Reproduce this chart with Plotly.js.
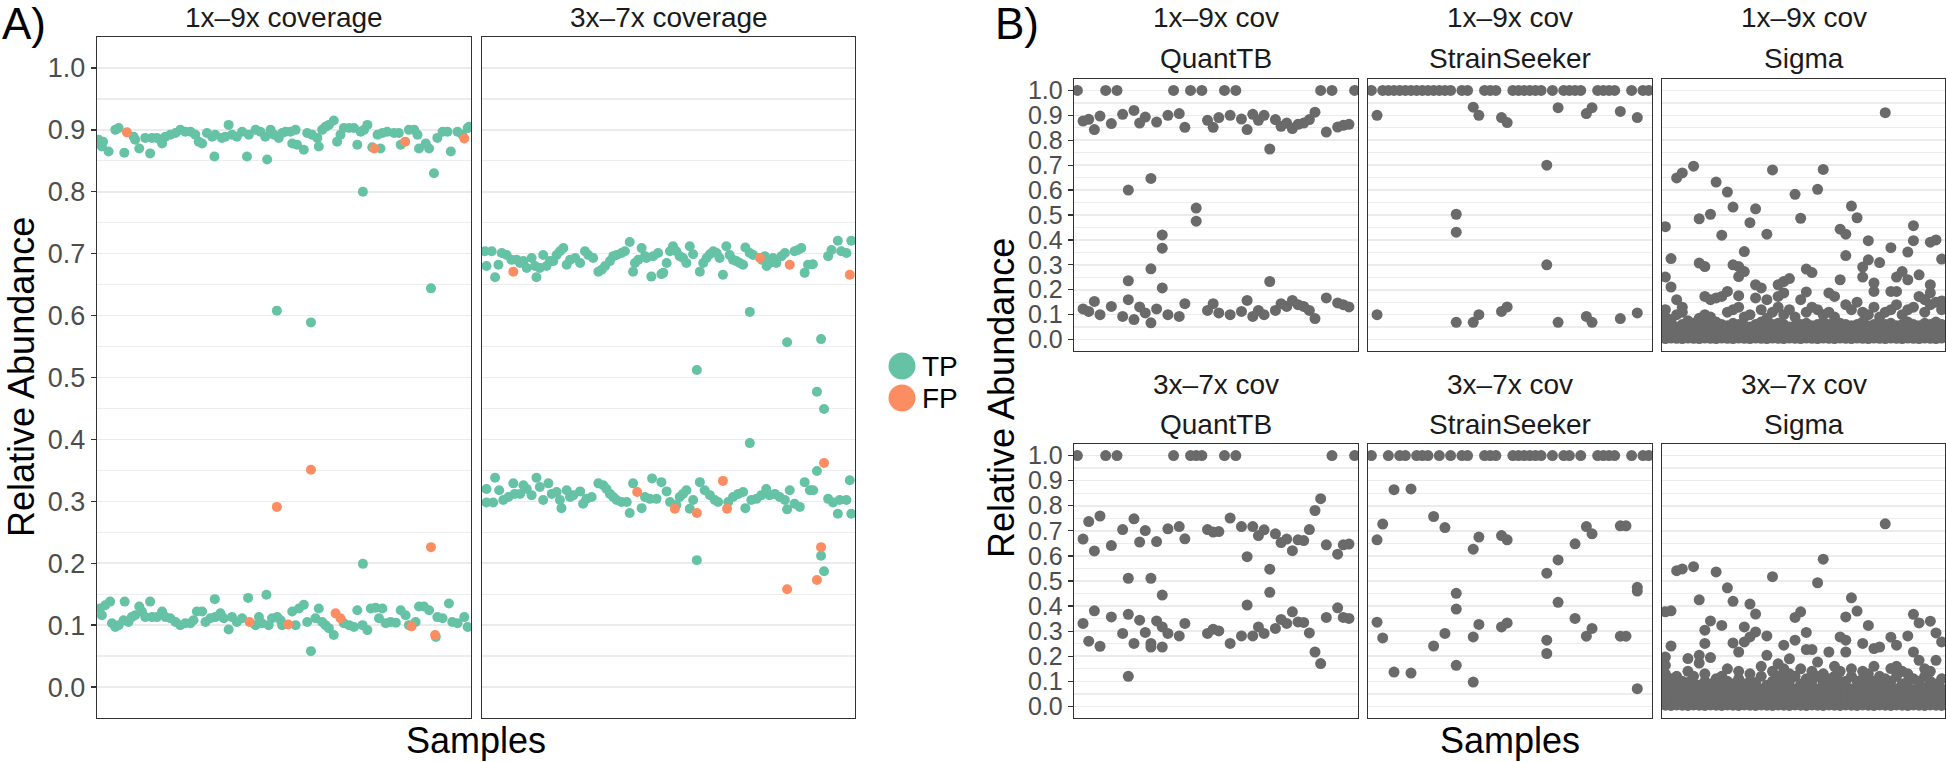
<!DOCTYPE html>
<html>
<head>
<meta charset="utf-8">
<script src="https://cdn.plot.ly/plotly-3.0.1.min.js"></script>
<style>html,body{margin:0;padding:0;background:#fff;}#chart{width:1946px;height:762px;}</style>
</head>
<body>
<div id="chart"></div>
<script>
// ---------- Panel A data: [sample position, relative abundance] ----------
const a19Tp = [
[0.4,0.884],[1.6,0.881],[1.3,0.873],[3.1,0.865],[4.9,0.9],[5.8,0.903],[7.3,0.863],[9.8,0.889],[10.2,0.884],[11.3,0.870],
[12.9,0.887],[14.2,0.862],[14.7,0.887],[16,0.887],[17.4,0.878],[18.3,0.889],[19.6,0.892],[21,0.895],[22.3,0.9],[23.6,0.897],
[25,0.897],[26.3,0.892],[27.2,0.881],[28.1,0.878],[29.4,0.895],[30.8,0.889],[31.6,0.892],[31.4,0.857],[33.4,0.887],[34.3,0.889],
[35.2,0.908],[36.1,0.892],[37.4,0.889],[38.8,0.897],[40.1,0.857],[40.6,0.892],[42.4,0.9],[43.7,0.897],[45,0.889],[45.5,0.852],
[46.4,0.9],[47.3,0.892],[48.6,0.887],[49.5,0.895],[50.4,0.897],[51.7,0.897],[52.2,0.878],[53.1,0.9],[53.5,0.876],[55.3,0.868],
[56.2,0.895],[57.5,0.892],[58.9,0.887],[59.3,0.873],[60.2,0.9],[61.1,0.905],[62,0.908],[63.3,0.915],[64.2,0.881],[65.1,0.892],
[66,0.903],[67.4,0.903],[68.7,0.903],[69.6,0.876],[70.5,0.897],[71.4,0.9],[72.3,0.908],[73.6,0.872],[75,0.892],[75.8,0.870],[76.3,0.895],
[77.6,0.897],[79.4,0.895],[80.7,0.895],[81.2,0.876],[83.4,0.9],[84.8,0.9],[85.7,0.892],[86.1,0.870],[87.9,0.878],[88.8,0.870],
[91,0.887],[92.4,0.897],[93.7,0.897],[94.6,0.865],[96.4,0.897],[97.7,0.892],[99.1,0.903],[99.5,0.905],
[71.1,0.80],[90.1,0.83],[48.1,0.608],[57.2,0.589],[89.3,0.644],[71.1,0.199],[57.2,0.058],
[0.8,0.127],[1.3,0.116],[2.2,0.132],[3.5,0.138],[4,0.103],[4.9,0.097],[5.8,0.1],[7.4,0.138],[7.1,0.108],[8.4,0.105],
[9.3,0.113],[10.2,0.116],[11.3,0.130],[12,0.122],[12.9,0.113],[14.2,0.138],[14.7,0.113],[16,0.113],[17.4,0.122],[18.3,0.113],
[19.6,0.111],[21,0.105],[22.3,0.1],[23.6,0.103],[25,0.103],[25.8,0.108],[26.7,0.122],[28.1,0.122],[29,0.105],[30.3,0.111],
[31.5,0.142],[31.6,0.113],[33,0.119],[33.9,0.111],[35.2,0.093],[36.1,0.113],[37.4,0.105],[38.8,0.111],[40.4,0.144],[42.4,0.1],
[43.3,0.113],[44.1,0.103],[45.3,0.149],[45.9,0.1],[46.8,0.111],[48.2,0.113],[49.1,0.108],[49.5,0.1],[52.2,0.122],[53.1,0.1],
[54,0.127],[55.3,0.133],[56.2,0.105],[58.4,0.111],[59.3,0.127],[60.2,0.105],[61.1,0.1],[62,0.095],[63.3,0.084],[66,0.103],
[67.4,0.1],[68.7,0.097],[69.6,0.124],[71,0.1],[72.3,0.092],[73.2,0.127],[74.5,0.128],[75.4,0.111],[76.3,0.127],[77.2,0.103],
[78.5,0.105],[79.9,0.104],[81.2,0.124],[82.5,0.116],[83.4,0.1],[85.2,0.105],[86.1,0.130],[87.4,0.130],[88.8,0.124],[90.6,0.081],
[91,0.113],[92.4,0.111],[94.1,0.135],[95,0.105],[96.4,0.103],[98.2,0.113],[99.1,0.097]
];
const a19Fp = [
[8,0.896],[74.1,0.870],[82.4,0.881],[98.2,0.886],[40.8,0.105],[51.1,0.101],[63.8,0.119],[65.1,0.111],[84.1,0.098],[90.4,0.084],
[48.1,0.291],[57.2,0.351],[89.3,0.226]
];
const a37Tp = [
[0.8,0.704],[2.6,0.704],[1.2,0.680],[3.5,0.662],[4.4,0.682],[5.3,0.701],[6.6,0.698],[7.9,0.690],[9.3,0.690],[10.2,0.685],
[11.1,0.688],[12,0.677],[13.3,0.693],[14.2,0.680],[14.6,0.662],[15.5,0.677],[16.4,0.698],[17.3,0.680],[18.2,0.688],[19.1,0.688],
[20,0.698],[20.9,0.704],[21.8,0.709],[22.7,0.682],[23.6,0.690],[25,0.693],[26.3,0.685],[27.6,0.704],[28.5,0.698],[29.8,0.693],
[31.2,0.671],[32.1,0.674],[33,0.680],[34.3,0.688],[35.2,0.696],[36.1,0.698],[37.4,0.701],[38.3,0.704],[39.6,0.719],[41,0.685],
[40.5,0.671],[41.9,0.690],[42.8,0.709],[43.7,0.696],[44.1,0.693],[45.4,0.663],[45.9,0.696],[47.2,0.701],[48.1,0.667],[48.6,0.669],
[49.5,0.685],[50.4,0.704],[51.2,0.712],[52.1,0.704],[53,0.696],[53.9,0.693],[54.8,0.685],[55.7,0.712],[56.6,0.699],[58.4,0.671],
[59.3,0.685],[60.2,0.693],[61.1,0.699],[62,0.704],[62.9,0.701],[63.7,0.693],[64.6,0.666],[65.5,0.712],[66.4,0.698],[67.3,0.690],
[68.2,0.688],[69.1,0.685],[70,0.682],[70.6,0.710],[71.8,0.701],[72.7,0.698],[75.1,0.690],[75.8,0.696],[76.3,0.680],[77.1,0.685],[78,0.693],
[78.9,0.685],[80.3,0.696],[81.2,0.701],[83.8,0.704],[84.7,0.706],[85.6,0.709],[86.5,0.669],[87.4,0.682],[88.7,0.683],[92.8,0.696],
[93.7,0.706],[95.4,0.721],[96.3,0.704],[97.7,0.701],[99,0.721],
[71.8,0.606],[81.8,0.557],[90.9,0.562],[57.6,0.512],[89.8,0.477],[91.7,0.449],[71.8,0.394],[89.8,0.349],[57.6,0.205],[90.9,0.212],[91.7,0.187],
[1.2,0.320],[1.2,0.298],[3,0.298],[3.5,0.338],[4.6,0.318],[5.7,0.302],[7.1,0.307],[8.4,0.329],[8.8,0.312],[10.2,0.312],
[11.1,0.326],[12,0.320],[13.3,0.310],[14.6,0.338],[15.5,0.323],[16.4,0.302],[17.8,0.329],[18.7,0.312],[20,0.315],[20.9,0.302],
[21.3,0.289],[22.7,0.318],[23.6,0.307],[24.5,0.310],[26.3,0.316],[27.1,0.296],[28,0.304],[29.4,0.307],[31.2,0.329],[32.5,0.326],
[33.4,0.320],[34.3,0.312],[35.2,0.307],[36.1,0.302],[37.4,0.299],[38.8,0.299],[39.6,0.281],[40.5,0.329],[42.8,0.289],[43.7,0.307],
[45,0.304],[45.6,0.337],[46.8,0.304],[48.1,0.331],[49.5,0.316],[50.4,0.299],[52.1,0.294],[53,0.307],[53.9,0.312],[54.8,0.318],
[55.7,0.288],[56.6,0.302],[58.4,0.331],[59.7,0.318],[61.1,0.310],[62.4,0.302],[63.3,0.299],[66,0.299],[67.3,0.307],[68.7,0.312],
[70,0.315],[70.6,0.289],[72.2,0.302],[73.6,0.304],[74.9,0.310],[76.2,0.320],[77.1,0.310],[78.5,0.312],[79.8,0.307],[81.2,0.302],
[81.8,0.287],[82.5,0.318],[83.8,0.296],[85.2,0.291],[86.5,0.331],[87.9,0.318],[88.8,0.318],[92.8,0.304],[94.1,0.298],[95.4,0.280],
[95.9,0.302],[97.7,0.302],[98.6,0.334],[99,0.280]
];
const a37Fp = [
[8.4,0.671],[74.5,0.693],[82.5,0.682],[98.6,0.666],
[91.7,0.362],[64.6,0.333],[41.6,0.315],[51.7,0.288],[57.6,0.281],[65.7,0.288],[90.9,0.226],[89.8,0.173],[81.8,0.158]
];

// ---------- Panel B data: one list of strain abundances per sample (samples 1..50) ----------
const quant19 = [
[1.0],[0.877,0.123],[0.884,0.113],[0.843,0.153],[0.897,0.1],[1.0],[0.867,0.133],[1.0],[0.904,0.093],[0.6,0.236,0.16],
[0.92,0.08],[0.869,0.131],[0.893,0.107],[0.647,0.284,0.067],[0.873,0.123],[0.42,0.367,0.207],[0.9,0.1],[1.0],[0.907,0.093],[0.852,0.144],
[1.0],[0.528,0.475],[1.0],[0.88,0.117],[0.852,0.144],[0.891,0.107],[1.0],[0.9,0.1],[1.0],[0.885,0.113],
[0.843,0.157],[0.904,0.093],[0.88,0.117],[0.9,0.1],[0.765,0.233],[0.883,0.117],[0.856,0.144],[0.869,0.133],[0.847,0.157],[0.864,0.14],
[0.869,0.133],[0.883,0.117],[0.913,0.084],[1.0],[0.833,0.167],[1.0],[0.853,0.147],[0.86,0.14],[0.864,0.131],[1.0]
];
const seeker19 = [
[1.0],[0.9,0.1],[1.0],[1.0],[1.0],[1.0],[1.0],[1.0],[1.0],[1.0],
[1.0],[1.0],[1.0],[1.0],[1.0],[0.503,0.431,0.069],[1.0],[1.0],[0.933,0.069],[0.9,0.1],
[1.0],[1.0],[1.0],[0.891,0.113],[0.871,0.131],[1.0],[1.0],[1.0],[1.0],[1.0],
[1.0],[0.7,0.3],[1.0],[0.931,0.069],[1.0],[1.0],[1.0],[1.0],[0.907,0.093],[0.931,0.069],
[1.0],[1.0],[1.0],[1.0],[0.916,0.084],[],[1.0],[0.891,0.107],[1.0],[1.0]
];
const sigma19 = [
[0.004,0.02,0.04,0.06,0.09,0.12,0.251,0.453],[0.006,0.022,0.038,0.055,0.08,0.211,0.325],[0.005,0.018,0.034,0.05,0.1,0.16,0.649],
[0.004,0.021,0.037,0.06,0.11,0.13,0.669],[0.006,0.019,0.036,0.052,0.075],[0.005,0.02,0.04,0.065,0.696],
[0.004,0.018,0.035,0.05,0.085,0.307,0.485],[0.006,0.022,0.038,0.06,0.1,0.173,0.293],[0.005,0.02,0.037,0.055,0.09,0.16,0.503],
[0.004,0.019,0.034,0.05,0.07,0.167,0.632],[0.006,0.021,0.04,0.06,0.173,0.419],[0.005,0.02,0.036,0.055,0.11,0.193,0.592],
[0.004,0.018,0.035,0.065,0.12,0.3,0.532],[0.006,0.022,0.04,0.06,0.13,0.176,0.253,0.293],[0.005,0.02,0.038,0.055,0.09,0.273,0.353],
[0.004,0.019,0.035,0.05,0.1,0.469],[0.006,0.021,0.04,0.06,0.167,0.22,0.525],[0.005,0.02,0.036,0.07,0.12,0.207],
[0.004,0.018,0.034,0.055,0.085,0.16,0.423],[0.006,0.022,0.038,0.06,0.11,0.681],[0.005,0.02,0.04,0.065,0.13,0.173,0.22],
[0.004,0.019,0.037,0.06,0.1,0.187,0.233],[0.006,0.021,0.035,0.05,0.12,0.245],[0.005,0.02,0.038,0.055,0.09,0.583],
[0.004,0.018,0.036,0.06,0.16,0.487],[0.006,0.022,0.04,0.065,0.11,0.191,0.283],[0.005,0.02,0.037,0.055,0.13,0.269],
[0.004,0.019,0.035,0.06,0.12,0.603],[0.006,0.021,0.04,0.07,0.1,0.683],[0.005,0.02,0.038,0.06,0.11,0.187],
[0.004,0.018,0.034,0.05,0.09,0.173],[0.006,0.022,0.04,0.065,0.24,0.443],[0.005,0.02,0.037,0.06,0.14,0.337,0.423],
[0.004,0.019,0.035,0.055,0.12,0.536],[0.006,0.021,0.04,0.06,0.15,0.489],[0.005,0.02,0.038,0.07,0.11,0.251,0.291],
[0.004,0.018,0.036,0.055,0.1,0.32,0.397],[0.006,0.022,0.04,0.06,0.13,0.193,0.227],[0.005,0.02,0.037,0.05,0.09,0.309],
[0.004,0.019,0.035,0.06,0.11,0.911],[0.006,0.021,0.04,0.065,0.12,0.193,0.369],[0.005,0.02,0.038,0.055,0.14,0.193,0.251],
[0.004,0.018,0.034,0.06,0.1,0.273],[0.006,0.022,0.04,0.07,0.12,0.24,0.351],[0.005,0.02,0.037,0.06,0.13,0.397,0.457],
[0.004,0.019,0.035,0.055,0.173,0.26],[0.006,0.021,0.04,0.065,0.11,0.16],[0.005,0.02,0.038,0.06,0.14,0.187,0.22,0.391],
[0.004,0.018,0.036,0.07,0.15,0.4],[0.006,0.022,0.04,0.06,0.12,0.155,0.323]
];
const quant37 = [
[1.0],[0.667,0.331],[0.737,0.26],[0.62,0.381],[0.759,0.24],[1.0],[0.641,0.357],[1.0],[0.705,0.291],[0.511,0.367,0.12],
[0.748,0.251],[0.655,0.344],[0.701,0.295],[0.511,0.251,0.237],[0.657,0.341],[0.444,0.317,0.237],[0.708,0.291],[1.0],[0.717,0.281],[0.668,0.331],
[1.0],[1.0],[1.0],[0.705,0.291],[0.695,0.308],[0.697,0.301],[1.0],[0.751,0.251],[1.0],[0.717,0.281],
[0.597,0.404],[0.717,0.281],[0.681,0.317],[0.704,0.291],[0.547,0.455],[0.688,0.311],[0.653,0.347],[0.667,0.331],[0.621,0.377],[0.664,0.337],
[0.661,0.335],[0.705,0.293],[0.781,0.217],[0.828,0.171],[0.644,0.355],[1.0],[0.607,0.393],[0.644,0.355],[0.647,0.351],[1.0]
];
const seeker37 = [
[1.0],[0.664,0.336],[0.727,0.273],[1.0],[0.864,0.137],[1.0],[1.0],[0.867,0.133],[1.0],[1.0],
[1.0],[0.757,0.241],[1.0],[0.713,0.291],[1.0],[0.451,0.388,0.164],[1.0],[1.0],[0.627,0.277,0.097],[0.675,0.327],
[1.0],[1.0],[1.0],[0.681,0.317],[0.664,0.333],[1.0],[1.0],[1.0],[1.0],[1.0],
[1.0],[0.531,0.264,0.211],[1.0],[0.584,0.415],[1.0],[1.0],[0.648,0.351],[1.0],[0.717,0.28],[0.688,0.311],
[1.0],[1.0],[1.0],[1.0],[0.72,0.28],[0.72,0.28],[1.0],[0.475,0.46,0.071],[1.0],[1.0]
];
const sigma37 = [
[0.005,0.02,0.035,0.05,0.065,0.08,0.1,0.13,0.164,0.197,0.377],[0.004,0.018,0.032,0.048,0.062,0.085,0.11,0.241,0.381],
[0.006,0.021,0.036,0.05,0.07,0.09,0.12,0.541],[0.005,0.019,0.034,0.049,0.065,0.08,0.1,0.548],
[0.004,0.02,0.035,0.052,0.07,0.095,0.14,0.191],[0.006,0.022,0.038,0.055,0.07,0.09,0.12,0.557],
[0.005,0.018,0.033,0.05,0.068,0.085,0.173,0.204,0.425],[0.004,0.02,0.036,0.052,0.07,0.1,0.13,0.251,0.304],
[0.006,0.021,0.035,0.05,0.065,0.09,0.195,0.341],[0.005,0.019,0.034,0.05,0.07,0.11,0.536],
[0.004,0.02,0.037,0.053,0.07,0.085,0.12,0.323],[0.006,0.022,0.038,0.055,0.075,0.1,0.15,0.473],
[0.005,0.018,0.033,0.05,0.065,0.09,0.253,0.419],[0.004,0.02,0.035,0.052,0.07,0.11,0.14,0.217],
[0.006,0.021,0.036,0.05,0.068,0.09,0.257,0.317],[0.005,0.019,0.034,0.05,0.07,0.1,0.13,0.277,0.408],
[0.004,0.02,0.037,0.055,0.075,0.095,0.297,0.368],[0.006,0.022,0.038,0.053,0.07,0.12,0.16],
[0.005,0.018,0.033,0.05,0.066,0.085,0.204,0.281],[0.004,0.02,0.035,0.052,0.07,0.1,0.14,0.517],
[0.006,0.021,0.036,0.05,0.068,0.09,0.12,0.17],[0.005,0.019,0.034,0.05,0.07,0.11,0.15,0.244],
[0.004,0.02,0.037,0.053,0.075,0.1,0.13,0.19],[0.006,0.022,0.038,0.055,0.07,0.12,0.264,0.355],
[0.005,0.018,0.033,0.05,0.065,0.09,0.15,0.377],[0.004,0.02,0.035,0.052,0.07,0.11,0.227,0.295],
[0.006,0.021,0.036,0.05,0.068,0.1,0.14,0.227],[0.005,0.019,0.034,0.05,0.07,0.12,0.177,0.493],
[0.004,0.02,0.037,0.053,0.072,0.095,0.13,0.587],[0.006,0.022,0.038,0.055,0.07,0.11,0.217],
[0.005,0.018,0.033,0.05,0.066,0.09,0.12,0.16],[0.004,0.02,0.035,0.052,0.07,0.1,0.14,0.277],
[0.006,0.021,0.036,0.05,0.068,0.1,0.217,0.264,0.357],[0.005,0.019,0.034,0.05,0.07,0.12,0.15,0.433],
[0.004,0.02,0.037,0.053,0.075,0.1,0.38],[0.006,0.022,0.038,0.055,0.07,0.11,0.14,0.251],
[0.005,0.018,0.033,0.05,0.066,0.09,0.13,0.323],[0.004,0.02,0.035,0.052,0.07,0.1,0.16,0.231],
[0.006,0.021,0.036,0.05,0.068,0.09,0.12,0.237],[0.005,0.019,0.034,0.05,0.07,0.11,0.728],
[0.004,0.02,0.037,0.053,0.072,0.1,0.151,0.276],[0.006,0.022,0.038,0.055,0.07,0.12,0.16,0.244],
[0.005,0.018,0.033,0.05,0.066,0.09,0.14],[0.004,0.02,0.035,0.052,0.07,0.1,0.13,0.281],
[0.006,0.021,0.036,0.05,0.068,0.11,0.217,0.367],[0.005,0.019,0.034,0.05,0.07,0.1,0.184,0.333],
[0.004,0.02,0.037,0.053,0.075,0.12,0.15],[0.006,0.022,0.038,0.055,0.07,0.1,0.14,0.34],
[0.005,0.018,0.033,0.05,0.066,0.09,0.184,0.293],[0.004,0.02,0.035,0.052,0.07,0.11,0.257]
];

// ---------- labels ----------
const stripA = ['1x\u20139x coverage', '3x\u20137x coverage'];
const stripBCov = ['1x\u20139x cov', '3x\u20137x cov'];
const tools = ['QuantTB', 'StrainSeeker', 'Sigma'];
const legendLabels = ['TP', 'FP'];
const yTitle = 'Relative Abundance';
const xTitle = 'Samples';

// ---------- styling ----------
const W = 1946, H = 762;
const FONT = 'Liberation Sans, Arial, Helvetica, sans-serif';
const TP = '#66C2A5', FP = '#FC8D62', GREY = '#6A6A6A';
const px = v => v / W, py = v => 1 - v / H;

function flatPairs(list) { return { x: list.map(p => p[0]), y: list.map(p => p[1]) }; }
function flatSamples(list) {
  const x = [], y = [];
  list.forEach((vals, i) => vals.forEach(v => { x.push(i + 1); y.push(v); }));
  return { x, y };
}

const traces = [];
function addPts(d, xa, ya, color, size) {
  traces.push({ type: 'scatter', mode: 'markers', x: d.x, y: d.y, xaxis: xa, yaxis: ya,
    marker: { color: color, size: size, line: { width: 0 } }, hoverinfo: 'skip', cliponaxis: true, showlegend: false });
}
addPts(flatPairs(a19Tp), 'x', 'y', TP, 10);
addPts(flatPairs(a19Fp), 'x', 'y', FP, 10);
addPts(flatPairs(a37Tp), 'x2', 'y2', TP, 10);
addPts(flatPairs(a37Fp), 'x2', 'y2', FP, 10);
const bSets = [quant19, seeker19, sigma19, quant37, seeker37, sigma37];
bSets.forEach((s, i) => addPts(flatSamples(s), 'x' + (i + 3), 'y' + (i + 3), GREY, 11));

function xax(domain, range, anchor) {
  return { domain: domain, range: range, anchor: anchor, showgrid: false, zeroline: false,
    showticklabels: false, ticks: '', showline: true, mirror: true, linecolor: '#333333', linewidth: 1.3, fixedrange: true };
}
function yax(domain, range, anchor, labels, fs) {
  return { domain: domain, range: range, anchor: anchor, tickmode: 'linear', tick0: 0, dtick: 0.1, tickformat: '.1f',
    showgrid: true, gridcolor: '#EBEBEB', gridwidth: 1.6,
    minor: { tickmode: 'linear', tick0: 0, dtick: 0.05, showgrid: true, gridcolor: '#EDEDED', gridwidth: 1.2, ticks: '' },
    zeroline: false, showline: true, mirror: true, linecolor: '#333333', linewidth: 1.3,
    ticks: labels ? 'outside' : '', ticklen: 5, tickwidth: 1.3, tickcolor: '#333333',
    showticklabels: labels, tickfont: { family: FONT, size: fs, color: '#4D4D4D' }, fixedrange: true };
}

const aY = [py(718), py(37)];
const bRow1 = [py(351), py(79)], bRow2 = [py(718), py(444)];
const bCols = [[px(1074), px(1358)], [px(1368), px(1652)], [px(1662), px(1945)]];
const aRange = [0, 100], aYR = [-0.05, 1.05], bXR = [0.4, 50.6], bYR = [-0.046, 1.046];

const layout = {
  width: W, height: H, margin: { l: 0, r: 0, t: 0, b: 0 }, paper_bgcolor: '#fff', plot_bgcolor: '#fff',
  showlegend: false, font: { family: FONT },
  xaxis: xax([px(97), px(471)], aRange, 'y'), yaxis: yax(aY, aYR, 'x', true, 27),
  xaxis2: xax([px(482), px(855)], aRange, 'y2'), yaxis2: yax(aY, aYR, 'x2', false, 27),
  annotations: [], shapes: []
};
for (let i = 0; i < 6; i++) {
  const n = i + 3, col = i % 3, row = Math.floor(i / 3);
  layout['xaxis' + n] = xax(bCols[col], bXR, 'y' + n);
  layout['yaxis' + n] = yax(row === 0 ? bRow1 : bRow2, bYR, 'x' + n, col === 0, 25);
}

function ann(text, x, y, size, opts) {
  layout.annotations.push(Object.assign({ text: text, x: x, y: y, xref: 'paper', yref: 'paper', showarrow: false,
    xanchor: 'center', yanchor: 'middle', font: { family: FONT, size: size, color: '#1A1A1A' } }, opts || {}));
}
ann('A)', px(0), py(24), 44, { xanchor: 'left', font: { family: FONT, size: 44, color: '#000' } });
ann('B)', px(993), py(24), 44, { xanchor: 'left', font: { family: FONT, size: 44, color: '#000' } });
ann(stripA[0], px(284), py(18), 28);
ann(stripA[1], px(668.5), py(18), 28);
const colCenters = [px(1216), px(1510), px(1803.5)];
for (let c = 0; c < 3; c++) {
  ann(stripBCov[0], colCenters[c], py(18), 28);
  ann(tools[c], colCenters[c], py(58), 28);
  ann(stripBCov[1], colCenters[c], py(384), 28);
  ann(tools[c], colCenters[c], py(424), 28);
}
ann(yTitle, px(21), py(377), 36, { textangle: -90, font: { family: FONT, size: 36, color: '#000' } });
ann(yTitle, px(1001), py(398), 36, { textangle: -90, font: { family: FONT, size: 36, color: '#000' } });
ann(xTitle, px(476), py(740), 36, { font: { family: FONT, size: 36, color: '#000' } });
ann(xTitle, px(1509.5), py(740), 36, { font: { family: FONT, size: 36, color: '#000' } });

// legend keys
[[TP, 366], [FP, 398]].forEach((k, i) => {
  layout.shapes.push({ type: 'circle', xref: 'paper', yref: 'paper', xsizemode: 'pixel', ysizemode: 'pixel',
    xanchor: px(902), yanchor: py(k[1]), x0: -13.5, x1: 13.5, y0: -13.5, y1: 13.5,
    fillcolor: k[0], line: { width: 0 } });
  ann(legendLabels[i], px(920), py(k[1]), 28, { xanchor: 'left', font: { family: FONT, size: 28, color: '#000' } });
});

Plotly.newPlot('chart', traces, layout, { staticPlot: true, displayModeBar: false });
</script>
</body>
</html>
